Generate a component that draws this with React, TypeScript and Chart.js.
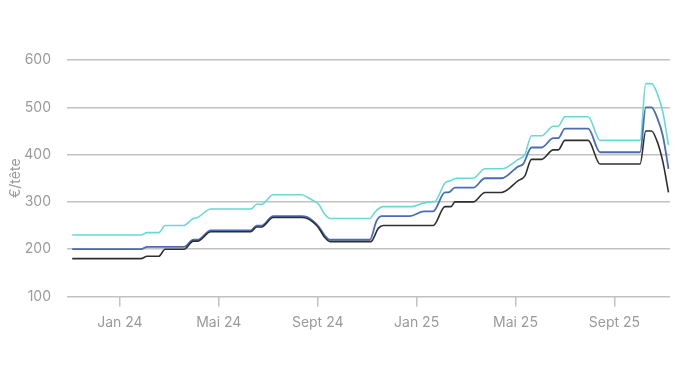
import React, { useEffect, useRef } from "react";
import { Chart, registerables } from "chart.js";

Chart.register(...registerables);

// x positions: months since Jan 2024
const tickMonths = [0, 4, 8, 12, 16, 20];
const tickLabels = ["Jan 24", "Mai 24", "Sept 24", "Jan 25", "Mai 25", "Sept 25"];

const cyanX = [-1.93, 0.85, 1.1, 1.57, 1.83, 2.56, 2.97, 3.14, 3.68, 5.3, 5.53, 5.74, 6.2, 7.35, 7.58, 7.81, 8.04, 8.27, 8.5, 10.11, 10.32, 10.65, 11.8, 12.26, 12.54, 12.71, 13.15, 13.39, 13.62, 14.29, 14.77, 15.44, 16.11, 16.38, 16.65, 17.06, 17.53, 17.73, 18.0, 18.94, 19.42, 21.04, 21.27, 21.5, 21.73, 21.96, 22.19];
const cyanY = [230, 230, 235, 235, 250, 250, 265, 267, 285, 285, 295, 295, 315, 315, 310, 303, 295, 275, 265, 265, 279, 290, 290, 297, 300, 300, 340, 345, 350, 350, 370, 370, 390, 400, 440, 440, 460, 460, 480, 480, 430, 430, 550, 550, 530, 490, 420];

const blueX = [-1.93, 0.85, 1.1, 2.59, 2.97, 3.14, 3.68, 5.3, 5.53, 5.73, 6.2, 7.35, 7.58, 7.81, 8.04, 8.27, 8.5, 10.11, 10.38, 10.59, 11.73, 12.3, 12.67, 13.15, 13.29, 13.55, 14.29, 14.77, 15.44, 16.11, 16.31, 16.65, 17.06, 17.53, 17.73, 18.0, 18.94, 19.42, 21.04, 21.27, 21.5, 21.73, 21.96, 22.19];
const blueY = [200, 200, 205, 205, 220, 220, 240, 240, 250, 250, 270, 270, 268, 260, 248, 230, 220, 220, 260, 270, 270, 280, 280, 320, 320, 330, 330, 350, 350, 375, 380, 415, 415, 435, 435, 455, 455, 405, 405, 500, 500, 478, 440, 370];

const blackX = [-1.93, 0.85, 1.1, 1.57, 1.83, 2.59, 2.97, 3.14, 3.68, 5.3, 5.53, 5.73, 6.2, 7.35, 7.58, 7.81, 8.04, 8.27, 8.5, 10.15, 10.45, 10.65, 12.67, 13.15, 13.39, 13.55, 14.29, 14.77, 15.44, 16.11, 16.38, 16.65, 17.06, 17.53, 17.73, 18.0, 18.94, 19.42, 21.04, 21.27, 21.5, 21.73, 21.96, 22.19];
const blackY = [180, 180, 185, 185, 200, 200, 217, 217, 237, 237, 247, 247, 267, 267, 265, 257, 245, 226, 216, 216, 244, 250, 250, 290, 290, 300, 300, 320, 320, 345, 355, 390, 390, 410, 410, 430, 430, 380, 380, 450, 450, 428, 385, 320];

const yTicks = [100, 200, 300, 400, 500, 600];

const toPoints = (xs: number[], ys: number[]) => xs.map((x, i) => ({ x, y: ys[i] }));

export default function App() {
  const ref = useRef<HTMLCanvasElement | null>(null);

  useEffect(() => {
    if (!ref.current) return;
    const font = { family: "Inter, 'Noto Sans', sans-serif", size: 14 };
    const common = { pointRadius: 0, fill: false, cubicInterpolationMode: "monotone" as const };
    const chart = new Chart(ref.current, {
      type: "line",
      data: {
        datasets: [
          { label: "black", data: toPoints(blackX, blackY), borderColor: "#2f2f2f", borderWidth: 1.6, ...common },
          { label: "blue", data: toPoints(blueX, blueY), borderColor: "#4a6cb5", borderWidth: 1.8, ...common },
          { label: "cyan", data: toPoints(cyanX, cyanY), borderColor: "#67dad4", borderWidth: 1.6, ...common },
        ],
      },
      options: {
        animation: false,
        responsive: false,
        maintainAspectRatio: false,
        layout: { padding: { top: 60, right: 20, left: 7, bottom: 0 } },
        plugins: { legend: { display: false }, tooltip: { enabled: false } },
        scales: {
          x: {
            type: "linear",
            min: -2.14,
            max: 22.25,
            border: { display: false },
            grid: { drawOnChartArea: false, drawTicks: true, tickLength: 10, color: "#c2c2c2", lineWidth: 1.5 },
            afterBuildTicks: (scale: any) => {
              scale.ticks = tickMonths.map((v) => ({ value: v }));
            },
            ticks: {
              color: "#9a9a9a",
              font,
              padding: 8,
              maxRotation: 0,
              autoSkip: false,
              callback: (v: any) => {
                const i = tickMonths.indexOf(Number(v));
                return i >= 0 ? tickLabels[i] : "";
              },
            },
            afterFit: (scale: any) => {
              scale.height = 388 - 296.5;
            },
          },
          y: {
            min: 100,
            max: 600,
            border: { display: false },
            afterBuildTicks: (scale: any) => {
              scale.ticks = yTicks.map((v) => ({ value: v }));
            },
            grid: { drawTicks: false, color: "#c2c2c2", lineWidth: 1.5 },
            ticks: { color: "#9a9a9a", font, padding: 16 },
            title: { display: true, text: "€/tête", color: "#9a9a9a", font, padding: { top: 0, bottom: 2 } },
            afterFit: (scale: any) => {
              scale.width = 60;
            },
          },
        },
      },
    });
    return () => chart.destroy();
  }, []);

  return (
    <div style={{ position: "absolute", left: 0, top: 0, width: 690, height: 388, background: "#fff" }}>
      <canvas ref={ref} width={690} height={388} style={{ display: "block" }} />
    </div>
  );
}
